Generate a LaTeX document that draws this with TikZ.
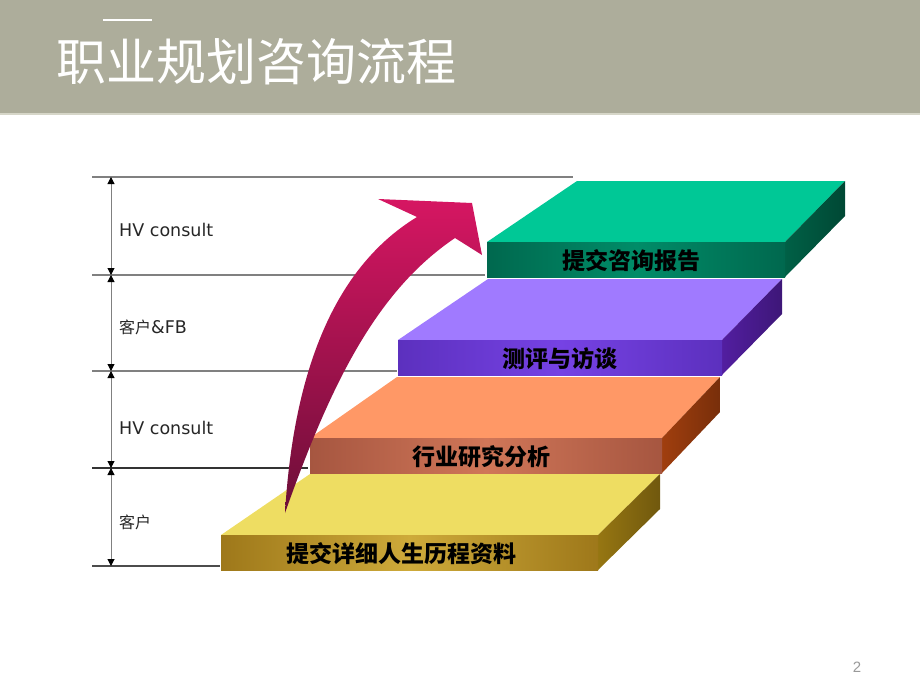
\documentclass[tikz,border=0pt]{standalone}
\usepackage{fontspec}
\setmainfont{DejaVu Sans}
\newfontfamily\cjk{Noto Sans CJK SC}
\newfontfamily\numfont{Liberation Sans}
\usetikzlibrary{arrows.meta}
\definecolor{band}{HTML}{ADAD9B}
\definecolor{bandline}{HTML}{D6D6C8}
\definecolor{top1}{RGB}{238,221,98}
\definecolor{front1}{RGB}{158,120,26}
\definecolor{mid1}{RGB}{206,170,58}
\definecolor{side1}{RGB}{150,118,18}
\definecolor{top2}{RGB}{255,152,102}
\definecolor{front2}{RGB}{166,86,64}
\definecolor{mid2}{RGB}{208,118,88}
\definecolor{side2}{RGB}{160,62,14}
\definecolor{top3}{RGB}{160,122,255}
\definecolor{front3}{RGB}{92,48,190}
\definecolor{mid3}{RGB}{118,66,228}
\definecolor{side3}{RGB}{82,30,160}
\definecolor{top4}{RGB}{0,200,150}
\definecolor{front4}{RGB}{0,104,78}
\definecolor{mid4}{RGB}{0,140,104}
\definecolor{side4}{RGB}{0,96,70}
\definecolor{arrowtop}{RGB}{214,22,98}
\definecolor{arrowbot}{RGB}{108,14,56}
\begin{document}
\begin{tikzpicture}[x=1pt,y=-1pt,>={Triangle[width=7pt,length=7pt,color=black]}]
  \tikzstyle{guide}=[draw=gray,line width=1.1pt]
  \tikzstyle{dim}=[<->,draw=gray,line width=1pt]
  \tikzstyle{side label}=[anchor=west,inner sep=0pt,text=black!85,font=\fontsize{17.5}{20}\selectfont]
  \tikzstyle{step label}=[inner sep=0pt,text=black,font=\cjk\bfseries\fontsize{23}{26}\selectfont]
  \useasboundingbox (0,0) rectangle (920,690);
  \fill[band] (0,0) rectangle (920,113);
  \fill[bandline] (0,113) rectangle (920,115);
  \draw[white,line width=1.5pt] (103,20) -- (152,20);
  \node[anchor=west,inner sep=0pt,text=white,font=\cjk\fontsize{50}{56}\selectfont] (title) at (56,62) {职业规划咨询流程};

  \foreach \y/\xe/\c [count=\i] in {177/573/gray,275/485/gray,371/397/gray,468/308/black!80,566/220/black!70}{
    \coordinate (d\i) at (111,\y);
    \draw[guide,draw=\c] (92,\y) -- (\xe,\y);
  }
  \draw[dim] (d1) -- (d2);
  \draw[dim] (d2) -- (d3);
  \draw[dim] (d3) -- (d4);
  \draw[dim] (d4) -- (d5);
  \node[side label] (who1) at (119,230) {HV consult};
  \node[side label] (who2) at (119,327) {{\cjk\fontsize{16}{18}\selectfont 客户}\&FB};
  \node[side label] (who3) at (119,428) {HV consult};
  \node[side label] (who4) at (119,522) {\cjk\fontsize{16}{18}\selectfont 客户};

  \foreach \n/\fl/\fr/\ty/\bl/\br/\tx/\txt in {1/221/598/535/310/660/401/提交详细人生历程资料,
      2/310/662/438/397/720/481/行业研究分析,3/398/722/340/488/782/560/测评与访谈,
      4/487/785/242/577/845/631/提交咨询报告}{
    \fill[top\n] (\fl,\ty) -- (\bl,\ty-61) -- (\br,\ty-61) -- (\fr,\ty) -- cycle;
    \shade[left color=side\n, right color=side\n!75!black] (\fr,\ty) -- (\br,\ty-61) -- (\br,\ty-26) -- (\fr,\ty+35) -- cycle;
    \shade[left color=front\n, right color=front\n, middle color=mid\n] (\fl,\ty) rectangle (\fr,\ty+35);
    \node[step label] (step\n) at (\tx,\ty+19) {\txt};
  }

  \shade[top color=arrowtop, bottom color=arrowbot] (285,513) .. controls (293,380) and (330,270) .. (417,217)
    -- (378,199) -- (472,203) -- (482,255) -- (455,238) .. controls (378,290) and (332,380) .. (285,513) -- cycle;

  \node[text=gray!80,font=\numfont\fontsize{15}{18}\selectfont] (page) at (857,667) {2};
\end{tikzpicture}
\end{document}
